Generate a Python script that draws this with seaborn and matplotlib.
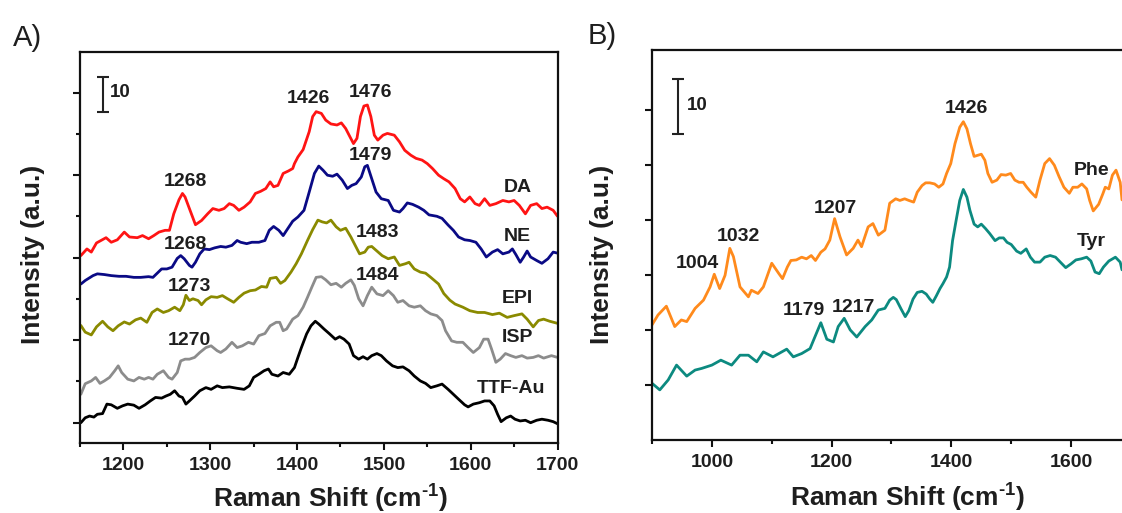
import matplotlib
matplotlib.use('Agg')
import matplotlib.pyplot as plt
import pandas as pd
import seaborn as sns
from matplotlib.ticker import MultipleLocator

# Panel A: catecholamines on TTF-Au (offset spectra, scale bar = 10)
da_pts = [(1151, 53.3), (1158, 55.2), (1163, 54.3), (1169, 56.9), (1180, 58.4), (1186, 57.1), (1193, 57.8),
          (1201, 60.0), (1207, 58.6), (1216, 58.4), (1222, 59.0), (1229, 58.1), (1235, 59.0), (1241, 60.0),
          (1248, 60.5), (1253, 60.5), (1258, 65.2), (1264, 69.2), (1268, 71.0), (1271, 70.0), (1276, 66.7),
          (1283, 62.1), (1290, 63.3), (1297, 65.2), (1303, 66.7), (1310, 66.2), (1316, 66.7), (1322, 68.1),
          (1327, 67.6), (1333, 66.2), (1339, 67.1), (1346, 68.6), (1352, 71.0), (1358, 71.6), (1364, 72.4),
          (1369, 74.3), (1373, 72.9), (1378, 73.3), (1384, 76.7), (1390, 77.4), (1395, 78.1), (1397, 79.5),
          (1401, 81.4), (1407, 83.5), (1414, 88.6), (1418, 92.9), (1422, 94.3), (1428, 93.8), (1433, 91.9),
          (1439, 90.8), (1446, 90.5), (1451, 91.1), (1456, 89.5), (1461, 87.1), (1465, 85.2), (1469, 86.7),
          (1473, 92.9), (1477, 95.9), (1481, 96.2), (1485, 92.9), (1489, 87.6), (1493, 86.2), (1499, 87.6),
          (1504, 88.1), (1512, 87.6), (1518, 85.7), (1524, 83.3), (1531, 81.9), (1537, 81.0), (1544, 80.5),
          (1550, 79.5), (1556, 78.1), (1563, 76.2), (1569, 75.2), (1575, 74.3), (1582, 72.4), (1588, 69.5),
          (1593, 68.6), (1599, 70.0), (1605, 68.1), (1610, 67.6), (1616, 69.5), (1622, 67.6), (1629, 68.1),
          (1637, 69.0), (1644, 68.6), (1650, 69.0), (1656, 67.6), (1663, 65.2), (1669, 67.6), (1676, 68.1),
          (1682, 66.7), (1688, 67.1), (1695, 66.2), (1700, 64.5)]

ne_pts = [(1151, 45.2), (1156, 46.2), (1165, 47.6), (1170, 48.1), (1178, 47.9), (1186, 47.6), (1195, 47.4),
          (1203, 47.4), (1212, 47.1), (1220, 47.1), (1229, 47.3), (1234, 47.1), (1239, 48.3), (1244, 49.5),
          (1250, 49.5), (1256, 50.0), (1262, 52.5), (1266, 53.3), (1270, 52.4), (1276, 50.5), (1279, 50.0),
          (1283, 51.4), (1288, 53.8), (1293, 55.2), (1299, 55.0), (1305, 55.5), (1312, 55.9), (1318, 55.7),
          (1325, 56.2), (1331, 57.6), (1335, 57.1), (1342, 56.7), (1348, 57.1), (1356, 57.1), (1363, 57.6),
          (1368, 60.5), (1373, 61.6), (1379, 60.5), (1384, 59.0), (1388, 60.5), (1395, 63.1), (1401, 64.3),
          (1408, 66.2), (1414, 71.4), (1420, 76.7), (1425, 78.8), (1430, 77.6), (1435, 76.2), (1441, 75.9),
          (1446, 76.5), (1452, 74.8), (1458, 72.4), (1463, 73.3), (1468, 73.8), (1474, 75.7), (1478, 78.6),
          (1481, 79.0), (1486, 75.2), (1491, 71.4), (1497, 69.5), (1505, 69.0), (1511, 66.2), (1518, 65.7),
          (1522, 66.7), (1527, 68.3), (1533, 67.9), (1540, 67.1), (1546, 66.2), (1552, 64.9), (1561, 64.5),
          (1567, 63.9), (1574, 62.0), (1580, 60.5), (1586, 58.6), (1593, 57.8), (1599, 57.6), (1606, 57.1),
          (1612, 55.2), (1618, 52.9), (1625, 54.3), (1631, 55.0), (1637, 53.8), (1644, 54.3), (1648, 55.2),
          (1652, 53.6), (1657, 51.4), (1661, 52.9), (1665, 54.6), (1669, 52.9), (1676, 51.9), (1682, 51.1),
          (1689, 52.4), (1695, 54.3), (1700, 54.0)]

epi_pts = [(1151, 33.4), (1156, 31.5), (1163, 30.7), (1169, 33.0), (1176, 34.6), (1182, 33.0), (1188, 31.9),
           (1194, 33.3), (1201, 34.4), (1207, 33.8), (1214, 35.0), (1220, 35.5), (1227, 34.3), (1233, 37.1),
           (1239, 38.1), (1246, 37.1), (1252, 37.6), (1259, 38.6), (1265, 37.6), (1269, 39.3), (1272, 42.0),
           (1276, 40.5), (1280, 41.0), (1286, 40.5), (1290, 39.3), (1295, 40.7), (1301, 41.6), (1308, 41.4),
           (1314, 41.9), (1320, 41.0), (1327, 40.0), (1333, 41.4), (1339, 42.6), (1346, 43.3), (1352, 43.5),
           (1359, 44.5), (1365, 44.3), (1369, 46.8), (1376, 47.1), (1381, 45.4), (1386, 46.2), (1393, 48.6),
           (1399, 51.0), (1405, 53.8), (1412, 57.6), (1418, 60.7), (1424, 63.4), (1429, 62.9), (1434, 62.6),
           (1439, 63.4), (1445, 61.5), (1450, 60.5), (1456, 61.1), (1462, 58.6), (1467, 56.2), (1472, 53.8),
           (1478, 54.3), (1482, 55.7), (1486, 55.9), (1492, 54.6), (1498, 53.3), (1505, 52.4), (1512, 52.9),
           (1518, 50.5), (1525, 51.0), (1529, 51.4), (1535, 49.5), (1542, 48.6), (1548, 48.3), (1554, 47.1),
           (1563, 45.2), (1569, 42.5), (1576, 40.6), (1582, 39.5), (1591, 38.6), (1599, 37.6), (1608, 37.1),
           (1616, 37.1), (1625, 36.5), (1633, 36.9), (1642, 35.7), (1650, 36.2), (1659, 36.7), (1665, 35.2),
           (1672, 33.0), (1678, 34.8), (1684, 35.2), (1691, 34.6), (1700, 34.0)]

isp_pts = [(1151, 13.8), (1156, 16.8), (1163, 17.6), (1168, 18.6), (1173, 16.9), (1178, 17.6), (1184, 18.6),
           (1190, 20.5), (1194, 21.9), (1198, 20.0), (1205, 18.1), (1212, 17.6), (1218, 18.6), (1224, 18.1),
           (1229, 18.6), (1234, 18.1), (1239, 19.5), (1246, 20.5), (1252, 18.6), (1256, 18.1), (1262, 20.0),
           (1266, 23.3), (1271, 23.8), (1276, 23.8), (1282, 24.3), (1288, 25.7), (1295, 27.1), (1301, 27.6),
           (1308, 26.2), (1312, 25.7), (1318, 26.7), (1325, 28.6), (1331, 27.1), (1337, 27.6), (1344, 28.6),
           (1350, 28.1), (1356, 30.5), (1363, 31.1), (1369, 33.3), (1376, 34.3), (1380, 34.3), (1384, 31.9),
           (1388, 32.4), (1395, 35.2), (1401, 36.2), (1407, 38.6), (1412, 41.4), (1417, 44.3), (1422, 47.1),
           (1428, 47.3), (1433, 46.4), (1439, 45.0), (1445, 45.4), (1451, 44.3), (1456, 45.4), (1462, 46.4),
           (1466, 44.8), (1471, 41.0), (1476, 39.0), (1481, 41.9), (1486, 44.3), (1492, 42.4), (1499, 41.9),
           (1505, 43.3), (1511, 41.9), (1516, 40.0), (1522, 40.5), (1529, 39.0), (1535, 38.6), (1542, 39.0),
           (1548, 37.6), (1554, 36.7), (1561, 36.2), (1567, 34.8), (1571, 31.9), (1578, 29.0), (1584, 28.6),
           (1591, 28.6), (1597, 27.1), (1603, 25.7), (1610, 27.1), (1615, 29.5), (1620, 29.5), (1624, 26.7),
           (1629, 22.9), (1634, 23.8), (1640, 25.4), (1646, 24.8), (1652, 24.3), (1659, 24.8), (1665, 24.1),
           (1672, 24.3), (1678, 24.8), (1684, 24.1), (1693, 24.8), (1700, 24.3)]

ttf_pts = [(1151, 5.7), (1156, 7.1), (1161, 7.6), (1166, 7.3), (1170, 8.1), (1176, 8.3), (1181, 11.0),
           (1186, 10.8), (1193, 9.8), (1199, 10.5), (1205, 11.0), (1212, 10.7), (1218, 9.8), (1225, 10.8),
           (1231, 11.9), (1237, 12.9), (1244, 12.7), (1249, 13.3), (1254, 13.8), (1259, 14.8), (1264, 13.3),
           (1268, 12.9), (1272, 11.0), (1276, 11.9), (1282, 13.3), (1288, 14.8), (1295, 15.7), (1301, 15.2),
           (1308, 16.2), (1314, 15.7), (1322, 15.9), (1331, 15.5), (1339, 15.2), (1345, 16.2), (1350, 18.6),
           (1356, 19.5), (1362, 20.5), (1367, 21.0), (1371, 19.5), (1378, 19.0), (1384, 20.0), (1391, 19.5),
           (1397, 21.4), (1401, 24.3), (1405, 27.1), (1411, 31.0), (1416, 33.3), (1421, 34.6), (1425, 33.8),
           (1431, 32.4), (1437, 31.1), (1444, 29.5), (1449, 30.2), (1454, 29.5), (1460, 28.1), (1465, 24.8),
           (1471, 23.8), (1476, 24.5), (1481, 23.8), (1486, 24.8), (1492, 25.4), (1497, 24.8), (1503, 23.3),
           (1510, 21.9), (1516, 21.4), (1522, 21.6), (1529, 20.5), (1535, 19.0), (1542, 17.6), (1548, 16.9),
           (1554, 15.7), (1561, 16.2), (1567, 16.7), (1574, 15.2), (1580, 13.8), (1586, 12.4), (1593, 10.8),
           (1597, 10.2), (1603, 11.0), (1610, 11.4), (1616, 11.9), (1622, 11.9), (1627, 10.5), (1631, 8.1),
           (1635, 6.0), (1641, 7.1), (1646, 7.6), (1651, 6.7), (1657, 6.2), (1663, 6.4), (1669, 5.7),
           (1676, 6.4), (1682, 6.7), (1689, 6.4), (1695, 6.0), (1700, 5.4)]

# Panel B: amino acids
phe_pts = [(900, 20.9), (910, 22.7), (924, 24.3), (938, 20.6), (949, 21.8), (958, 21.5), (972, 23.9),
           (986, 25.4), (997, 27.8), (1004, 30.1), (1013, 27.5), (1022, 29.9), (1030, 34.8), (1036, 33.3),
           (1047, 27.8), (1061, 26.0), (1066, 27.2), (1077, 26.6), (1086, 27.8), (1100, 32.1), (1112, 30.2),
           (1118, 29.3), (1126, 31.4), (1132, 32.6), (1141, 32.7), (1150, 33.2), (1158, 32.9), (1166, 33.5),
           (1173, 32.6), (1182, 34.1), (1189, 34.7), (1197, 36.3), (1205, 40.2), (1214, 36.9), (1225, 33.6),
           (1236, 34.8), (1244, 36.3), (1250, 35.1), (1261, 38.7), (1269, 39.3), (1278, 37.2), (1289, 38.1),
           (1297, 43.0), (1307, 43.8), (1314, 43.5), (1322, 43.8), (1329, 43.5), (1337, 43.2), (1343, 45.0),
           (1351, 46.2), (1357, 46.7), (1364, 46.7), (1372, 46.5), (1379, 45.9), (1386, 46.5), (1392, 48.4),
           (1399, 50.2), (1406, 53.8), (1414, 56.8), (1420, 57.8), (1426, 56.5), (1432, 53.8), (1438, 51.5),
           (1444, 51.7), (1450, 51.9), (1456, 50.8), (1461, 48.4), (1468, 46.8), (1476, 47.2), (1483, 48.2),
           (1491, 48.1), (1499, 48.4), (1506, 47.2), (1513, 46.8), (1520, 46.8), (1526, 45.9), (1533, 45.0),
           (1541, 44.1), (1548, 47.2), (1556, 50.2), (1564, 51.1), (1572, 49.9), (1580, 47.8), (1588, 45.9),
           (1597, 44.8), (1603, 45.9), (1611, 45.9), (1618, 46.5), (1626, 45.6), (1631, 43.5), (1637, 41.6),
           (1646, 42.8), (1653, 44.7), (1657, 45.9), (1663, 45.6), (1669, 48.1), (1675, 49.0), (1682, 46.8),
           (1685, 43.6)]

tyr_pts = [(900, 10.3), (913, 9.1), (927, 10.9), (941, 13.6), (958, 11.6), (972, 12.7), (983, 13.0),
           (1000, 13.6), (1015, 14.5), (1033, 13.6), (1047, 15.4), (1061, 15.4), (1075, 14.2), (1086, 16.0),
           (1102, 15.1), (1125, 16.5), (1136, 15.1), (1150, 15.7), (1164, 16.6), (1172, 18.7), (1182, 21.3),
           (1192, 18.3), (1203, 17.8), (1211, 20.6), (1221, 22.1), (1231, 20.0), (1242, 18.7), (1256, 20.6),
           (1267, 21.8), (1278, 23.6), (1289, 23.9), (1297, 25.4), (1303, 25.9), (1308, 25.5), (1316, 23.8),
           (1323, 22.4), (1329, 23.5), (1336, 25.6), (1343, 26.8), (1351, 27.0), (1358, 26.5), (1364, 25.6),
           (1369, 25.0), (1375, 26.2), (1381, 27.5), (1386, 28.4), (1392, 29.6), (1397, 31.4), (1402, 36.2),
           (1408, 39.9), (1414, 43.5), (1420, 45.5), (1426, 44.1), (1431, 41.7), (1438, 39.2), (1444, 38.7),
           (1450, 39.2), (1457, 38.4), (1464, 37.5), (1473, 36.2), (1480, 36.7), (1487, 36.7), (1493, 35.9),
           (1500, 35.5), (1509, 34.3), (1516, 33.9), (1525, 34.7), (1532, 33.2), (1539, 32.3), (1548, 32.3),
           (1556, 33.2), (1565, 33.5), (1574, 33.2), (1582, 32.3), (1591, 31.3), (1600, 32.0), (1608, 32.7),
           (1617, 32.9), (1626, 33.2), (1633, 32.5), (1640, 30.5), (1647, 30.2), (1654, 31.4), (1663, 32.5),
           (1674, 33.2), (1682, 32.3), (1685, 30.9)]

samples_a = ['DA', 'NE', 'EPI', 'ISP', 'TTF-Au']
colors_a = ['#ff1414', '#0a0a85', '#8a8a00', '#8c8c8c', '#000000']
samples_b = ['Phe', 'Tyr']
colors_b = ['#ff8a1c', '#0c8a80']

# peak labels: (text, x, y)
peaks_a = [('1426', 1413, 98.1), ('1476', 1485, 99.7), ('1268', 1272, 74.3), ('1479', 1485, 81.7),
           ('1268', 1272, 56.5), ('1483', 1493, 59.8), ('1273', 1276, 44.5), ('1484', 1493, 47.7),
           ('1270', 1276, 29.1)]
names_a = [('DA', 1654, 72.7), ('NE', 1654, 58.6), ('EPI', 1654, 41.1), ('ISP', 1654, 30.1),
           ('TTF-Au', 1646, 15.5)]
peaks_b = [('1426', 1425, 60.2), ('1207', 1206, 42.0), ('1032', 1044, 37.0), ('1004', 975, 32.0),
           ('1179', 1154, 23.5), ('1217', 1236, 24.1)]
names_b = [('Phe', 1634, 49.0), ('Tyr', 1634, 36.1)]


def to_frame(curves, names):
    rows = []
    for pts, name in zip(curves, names):
        for x, y in pts:
            rows.append({'shift': x, 'intensity': y, 'sample': name})
    return pd.DataFrame(rows)


df_a = to_frame([da_pts, ne_pts, epi_pts, isp_pts, ttf_pts], samples_a)
df_b = to_frame([phe_pts, tyr_pts], samples_b)

sns.set_style('ticks')
plt.rcParams['font.family'] = ['Liberation Sans', 'DejaVu Sans']
plt.rcParams['mathtext.fontset'] = 'custom'
plt.rcParams['mathtext.rm'] = 'Liberation Sans:bold'
plt.rcParams['mathtext.bf'] = 'Liberation Sans:bold'

text_color = '#1e1e1e'

fig = plt.figure(figsize=(11.22, 5.13), dpi=100)
ax_a = fig.add_axes([0.0713, 0.137, 0.4256, 0.761])
ax_b = fig.add_axes([0.5811, 0.1423, 0.4189, 0.760])

sns.lineplot(data=df_a, x='shift', y='intensity', hue='sample', hue_order=samples_a,
             palette=colors_a, estimator=None, legend=False, linewidth=2.0, ax=ax_a)
sns.lineplot(data=df_b, x='shift', y='intensity', hue='sample', hue_order=samples_b,
             palette=colors_b, estimator=None, legend=False, linewidth=2.0, ax=ax_b)

ax_a.set_xlim(1150, 1700)
ax_a.set_ylim(0, 111.2)
ax_a.xaxis.set_major_locator(MultipleLocator(100))
ax_a.xaxis.set_minor_locator(MultipleLocator(50))
ax_a.set_yticks([5.7, 29.2, 52.7, 76.2, 99.7])
ax_a.set_yticks([17.45, 40.95, 64.45, 87.95], minor=True)

ax_b.set_xlim(900, 1685)
ax_b.set_ylim(0, 70.8)
ax_b.xaxis.set_major_locator(MultipleLocator(200))
ax_b.xaxis.set_minor_locator(MultipleLocator(100))
ax_b.set_yticks([10, 20, 30, 40, 50, 60])
ax_b.spines['right'].set_visible(False)

xlabel = r'Raman Shift (cm$^{\text{-1}}$)'
for ax in (ax_a, ax_b):
    ax.set_yticklabels([])
    for side in ['left', 'bottom', 'top', 'right']:
        ax.spines[side].set_linewidth(1.6)
        ax.spines[side].set_color('#111111')
    ax.tick_params(axis='both', which='major', direction='out', length=5, width=1.5,
                   color='#111111', labelsize=14, labelcolor=text_color, pad=5)
    ax.tick_params(axis='both', which='minor', direction='out', length=3, width=1.5, color='#111111')
    for lbl in ax.get_xticklabels():
        lbl.set_fontweight('bold')
    ax.set_xlabel(xlabel, fontsize=19, fontweight='bold', color=text_color, va='center')
    ax.set_ylabel('Intensity (a.u.)', fontsize=19, fontweight='bold', color=text_color, va='center')

ax_a.xaxis.set_label_coords(0.524, -0.140)
ax_a.yaxis.set_label_coords(-0.098, 0.483)
ax_b.xaxis.set_label_coords(0.544, -0.144)
ax_b.yaxis.set_label_coords(-0.106, 0.477)

# scale bars
ax_a.errorbar([1176.5], [99.1], yerr=[5], color='#222222', capsize=4, elinewidth=1.5, capthick=1.5)
ax_a.text(1184, 99.7, '10', fontsize=13.5, fontweight='bold', color=text_color, ha='left', va='center')
ax_b.errorbar([944], [60.5], yerr=[5], color='#222222', capsize=4.5, elinewidth=1.5, capthick=1.5)
ax_b.text(959, 60.8, '10', fontsize=13.5, fontweight='bold', color=text_color, ha='left', va='center')

for label, x, y in peaks_a + names_a:
    ax_a.text(x, y, label, fontsize=14, fontweight='bold', color=text_color, ha='center', va='center')
for label, x, y in peaks_b + names_b:
    ax_b.text(x, y, label, fontsize=14, fontweight='bold', color=text_color, ha='center', va='center')

fig.text(0.0245, 0.925, 'A)', fontsize=21, color=text_color, ha='center', va='center')
fig.text(0.5363, 0.930, 'B)', fontsize=21, color=text_color, ha='center', va='center')

fig.savefig('out.png', dpi=100)
